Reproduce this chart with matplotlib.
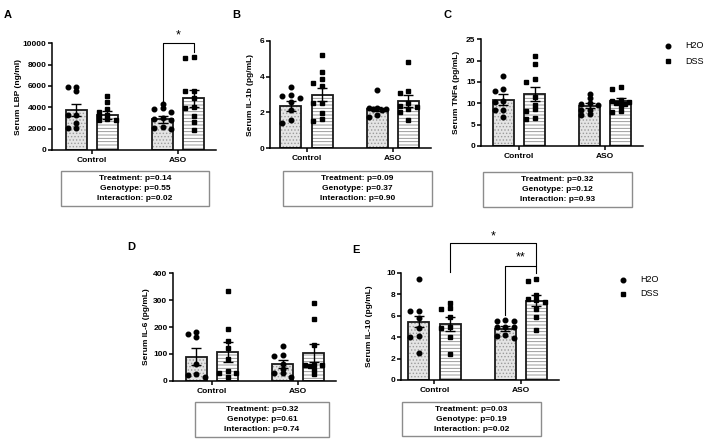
import matplotlib
matplotlib.use('Agg')
import matplotlib.pyplot as plt
from matplotlib.patches import Rectangle
from matplotlib.lines import Line2D
import numpy as np

plt.rcParams['font.family'] = ['Liberation Sans', 'DejaVu Sans']
plt.rcParams['hatch.linewidth'] = 0.6

W, H = 708, 442
groups = ['Control', 'ASO']

# A - LBP (ng/ml)
lbp_mean_h2o = [3750, 2880]
lbp_sem_h2o = [560, 310]
lbp_mean_dss = [3280, 4840]
lbp_sem_dss = [410, 780]
lbp_h2o_ctrl = [5900, 5550, 5950, 3300, 2500, 3250, 2100, 2100]
lbp_dss_ctrl = [5050, 4500, 3850, 3600, 3300, 3200, 2900, 2850, 2800]
lbp_h2o_aso = [4350, 3850, 3900, 3600, 2900, 3000, 2050, 2200, 2000, 2850]
lbp_dss_aso = [8700, 8600, 5550, 5550, 4850, 4000, 3950, 3200, 2650, 1900]

# B - IL-1b (pg/mL)
il1b_mean_h2o = [2.37, 2.19]
il1b_sem_h2o = [0.28, 0.13]
il1b_mean_dss = [3.0, 2.65]
il1b_sem_dss = [0.39, 0.35]
il1b_h2o_ctrl = [3.43, 2.9, 2.95, 2.6, 2.15, 1.6, 1.4, 2.8]
il1b_dss_ctrl = [5.2, 4.25, 3.85, 3.65, 3.5, 2.55, 2.55, 1.95, 1.65, 1.5]
il1b_h2o_aso = [3.25, 2.2, 2.25, 2.25, 2.2, 1.85, 1.75, 2.15]
il1b_dss_aso = [4.8, 3.1, 3.2, 2.3, 2.35, 2.5, 2.2, 2.05, 1.6]

# C - TNFa (pg/mL)
tnf_mean_h2o = [10.8, 9.4]
tnf_sem_h2o = [1.3, 0.6]
tnf_mean_dss = [12.2, 10.6]
tnf_sem_dss = [1.7, 0.6]
tnf_h2o_ctrl = [16.3, 13.4, 13.0, 10.3, 8.4, 8.4, 6.7, 10.5]
tnf_dss_ctrl = [21.2, 19.2, 15.1, 15.7, 11.5, 9.6, 8.2, 8.6, 6.3, 6.6]
tnf_h2o_aso = [12.2, 11.2, 10.0, 9.8, 9.6, 8.5, 8.4, 7.3, 7.4]
tnf_dss_aso = [13.9, 13.3, 10.8, 10.4, 10.0, 9.9, 9.3, 8.1, 8.0, 10.5]

# D - IL-6 (pg/mL)
il6_mean_h2o = [89, 62]
il6_sem_h2o = [31, 15]
il6_mean_dss = [108, 102]
il6_sem_dss = [37, 33]
il6_h2o_ctrl = [164, 180, 173, 61, 12, 25, 22]
il6_dss_ctrl = [334, 192, 148, 122, 80, 36, 15, 30, 30]
il6_h2o_aso = [130, 93, 96, 61, 45, 27, 27, 15]
il6_dss_aso = [288, 230, 133, 60, 58, 58, 55, 40, 24]

# E - IL-10 (pg/mL)
il10_mean_h2o = [5.43, 4.78]
il10_sem_h2o = [0.53, 0.25]
il10_mean_dss = [5.22, 7.39]
il10_sem_dss = [0.62, 0.53]
il10_h2o_ctrl = [9.4, 6.43, 6.43, 5.75, 4.8, 4.1, 4.04, 2.55]
il10_dss_ctrl = [7.14, 6.58, 6.68, 5.84, 4.8, 4.9, 3.98, 2.42]
il10_h2o_aso = [5.59, 5.53, 5.53, 4.97, 4.9, 4.97, 3.88, 4.19, 4.1]
il10_dss_aso = [9.25, 9.38, 7.92, 7.55, 7.24, 7.45, 6.58, 5.84, 4.66]

stats_A = ['Treatment: p=0.14', 'Genotype: p=0.55', 'Interaction: p=0.02']
stats_B = ['Treatment: p=0.09', 'Genotype: p=0.37', 'Interaction: p=0.90']
stats_C = ['Treatment: p=0.32', 'Genotype: p=0.12', 'Interaction: p=0.93']
stats_D = ['Treatment: p=0.32', 'Genotype: p=0.61', 'Interaction: p=0.74']
stats_E = ['Treatment: p=0.03', 'Genotype: p=0.19', 'Interaction: p=0.02']

fig = plt.figure(figsize=(W / 100, H / 100), dpi=100)


def fx(px):
    return px / W


def fy(py):
    return 1 - py / H


def spread(vals, ythr):
    # simple beeswarm so points do not sit on each other
    cand = [0, -0.1, 0.1, -0.05, 0.05, -0.15, 0.15, -0.2, 0.2]
    order = np.argsort(vals)[::-1]
    placed = []
    offs = np.zeros(len(vals))
    for i in order:
        v = vals[i]
        for c in cand:
            ok = True
            for (px, pv) in placed:
                if abs(c - px) < 0.05 and abs(v - pv) < ythr:
                    ok = False
                    break
            if ok:
                break
        placed.append((c, v))
        offs[i] = c
    return offs


SP = 86.3  # px per group
OFF = 0.18
BW = 0.243


def panel(left, top, bottom, lgap, ymax, ystep, ylab, ylab_x,
          m_h2o, s_h2o, m_dss, s_dss, pts, stats, box):
    xl = (-lgap, 1.44)
    wpx = (xl[1] - xl[0]) * SP
    ax = fig.add_axes([fx(left), fy(bottom), wpx / W, (bottom - top) / H])
    x = np.arange(len(groups))
    # fills with hatch, then outline
    ax.bar(x - OFF, m_h2o, BW, color='#e4e4e4', edgecolor='#9a9a9a', hatch='.....', linewidth=0, zorder=1)
    ax.bar(x + OFF, m_dss, BW, color='white', edgecolor='#8a8a8a', hatch='-----', linewidth=0, zorder=1)
    ax.bar(x - OFF, m_h2o, BW, fill=False, edgecolor='#1a1a1a', linewidth=1.3, zorder=2)
    ax.bar(x + OFF, m_dss, BW, fill=False, edgecolor='#1a1a1a', linewidth=1.3, zorder=2)
    ax.errorbar(x - OFF, m_h2o, yerr=s_h2o, fmt='none', ecolor='black', elinewidth=1, capsize=3.5, capthick=1, zorder=4)
    ax.errorbar(x + OFF, m_dss, yerr=s_dss, fmt='none', ecolor='black', elinewidth=1, capsize=3.5, capthick=1, zorder=4)
    ythr = ymax * 4.2 / (bottom - top)
    for gi in range(2):
        for k, (mk, xc) in enumerate([('o', gi - OFF), ('s', gi + OFF)]):
            vals = np.array(pts[gi * 2 + k], dtype=float)
            xs = xc + spread(vals, ythr)
            ax.plot(xs, vals, ls='none', marker=mk, ms=3.3, color='black', zorder=5, clip_on=False)
    ax.set_xlim(xl)
    ax.set_ylim(0, ymax)
    ax.set_yticks(np.arange(0, ymax + ystep / 2, ystep))
    ax.set_xticks(x)
    ax.set_xticklabels(groups)
    for s in ['top', 'right']:
        ax.spines[s].set_visible(False)
    for s in ['left', 'bottom']:
        ax.spines[s].set_linewidth(1.1)
    ax.tick_params(axis='x', length=3, width=1.1, pad=2, labelsize=6)
    ax.tick_params(axis='y', length=3, width=1.1, pad=1, labelsize=6)
    for lbl in ax.get_xticklabels() + ax.get_yticklabels():
        lbl.set_fontweight('bold')
    fig.text(fx(ylab_x), fy((top + bottom) / 2), ylab, rotation=90, ha='center', va='center',
             fontsize=6, fontweight='bold')
    # stats box
    bx0, by0, bx1, by1 = box
    fig.patches.append(Rectangle((fx(bx0), fy(by1)), (bx1 - bx0) / W, (by1 - by0) / H,
                                 transform=fig.transFigure, fill=False, edgecolor='#8c8c8c', linewidth=1))
    for i, t in enumerate(stats):
        fig.text(fx((bx0 + bx1) / 2), fy(by0 + 7.5 + i * 10), t, ha='center', va='center',
                 fontsize=6, fontweight='bold')
    return ax


axA = panel(52, 43.3, 150, 0.463, 10000, 2000, 'Serum LBP (ng/ml)', 18.5,
            lbp_mean_h2o, lbp_sem_h2o, lbp_mean_dss, lbp_sem_dss,
            [lbp_h2o_ctrl, lbp_dss_ctrl, lbp_h2o_aso, lbp_dss_aso], stats_A, (61, 171, 209, 206))
axB = panel(270, 40.7, 148.3, 0.423, 6, 2, 'Serum IL-1b (pg/mL)', 251,
            il1b_mean_h2o, il1b_sem_h2o, il1b_mean_dss, il1b_sem_dss,
            [il1b_h2o_ctrl, il1b_dss_ctrl, il1b_h2o_aso, il1b_dss_aso], stats_B, (283, 171, 432, 206))
axC = panel(481, 39.3, 146, 0.44, 25, 5, 'Serum TNFa (pg/mL)', 456.5,
            tnf_mean_h2o, tnf_sem_h2o, tnf_mean_dss, tnf_sem_dss,
            [tnf_h2o_ctrl, tnf_dss_ctrl, tnf_h2o_aso, tnf_dss_aso], stats_C, (483, 172, 632, 207))
axD = panel(173, 273.3, 380.7, 0.452, 400, 100, 'Serum IL-6 (pg/mL)', 146.5,
            il6_mean_h2o, il6_sem_h2o, il6_mean_dss, il6_sem_dss,
            [il6_h2o_ctrl, il6_dss_ctrl, il6_h2o_aso, il6_dss_aso], stats_D, (195, 402, 329, 437))
axE = panel(401, 272.7, 380, 0.388, 10, 2, 'Serum IL-10 (pg/mL)', 369,
            il10_mean_h2o, il10_sem_h2o, il10_mean_dss, il10_sem_dss,
            [il10_h2o_ctrl, il10_dss_ctrl, il10_h2o_aso, il10_dss_aso], stats_E, (402, 402, 541, 436))


def bracket(ax, x1, x2, ytop, yl, yr, label, ylab):
    ax.plot([x1, x1, x2, x2], [yl, ytop, ytop, yr], color='black', lw=0.8, clip_on=False, zorder=6)
    ax.text((x1 + x2) / 2, ylab, label, ha='center', va='center', fontsize=9, clip_on=False)


bracket(axA, 1 - OFF, 1 + OFF, 10000, 4500, 9150, '*', 10700)
bracket(axE, OFF, 1 + OFF, 12.75, 10.1, 10.6, '*', 13.4)
bracket(axE, 1 - OFF, 1 + OFF, 10.6, 6.05, 9.95, '**', 11.4)

# panel letters
for t, (px, py) in zip('ABCDE', [(3.5, 15), (232, 15), (443, 15), (127, 247), (352, 250)]):
    fig.text(fx(px), fy(py), t, ha='left', va='center', fontsize=8, fontweight='bold')

# legends
for (mx, my) in [(668, 46), (623, 280)]:
    for i, (mk, lab) in enumerate([('o', 'H2O'), ('s', 'DSS')]):
        yy = my + i * 15 if mx == 668 else my + i * 14
        fig.lines.append(Line2D([fx(mx)], [fy(yy)], transform=fig.transFigure, marker=mk,
                                ms=3.3, color='black', ls='none'))
        fig.text(fx(mx + 17), fy(yy), lab, ha='left', va='center', fontsize=6.5)

fig.savefig('out.png', dpi=100)
